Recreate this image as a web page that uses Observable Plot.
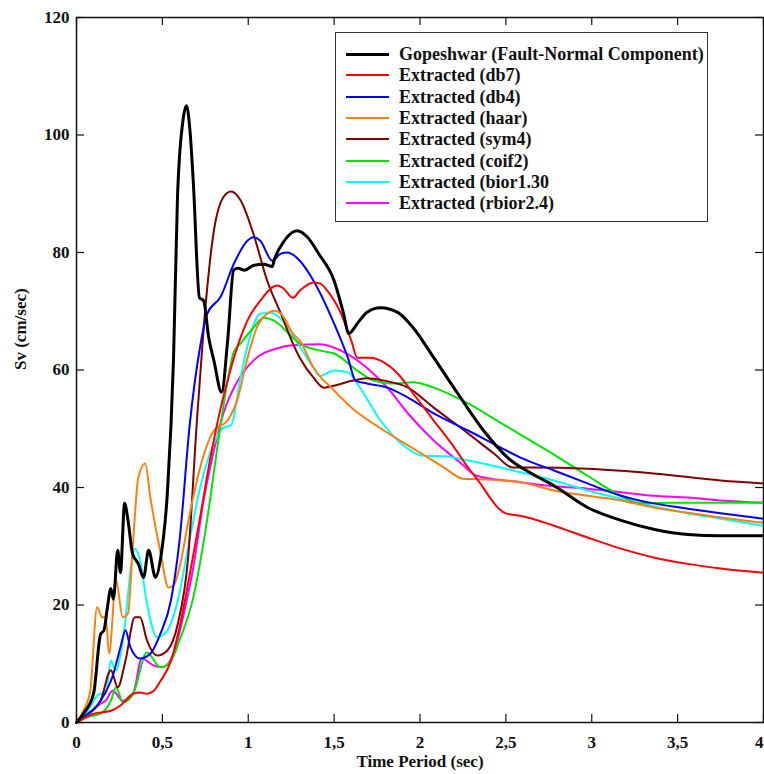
<!DOCTYPE html>
<html><head><meta charset="utf-8">
<script src="https://cdn.jsdelivr.net/npm/d3@7"></script>
<script src="https://cdn.jsdelivr.net/npm/@observablehq/plot@0.6"></script>
<style>
body{margin:0;background:#fff;}
#wrap{position:relative;width:764px;height:774px;font-family:"Liberation Serif","Times New Roman",serif;}
#legend{position:absolute;left:335px;top:32px;width:371px;height:188px;border:1.5px solid #333;background:#fff;box-sizing:content-box;}
.row{position:absolute;left:0;height:22px;width:100%;}
.sw{position:absolute;left:10px;top:10px;width:43px;}
.lab{position:absolute;left:63px;top:0;line-height:22px;font-weight:bold;font-size:18px;white-space:nowrap;color:#111;}
</style></head>
<body>
<div id="wrap"><div id="chart"></div><div id="legend"></div></div>
<script>
const xTicks = [0, 0.5, 1, 1.5, 2, 2.5, 3, 3.5, 4];
const yTicks = [0, 20, 40, 60, 80, 100, 120];
const xLabel = "Time Period (sec)";
const yLabel = "Sv (cm/sec)";

const seriesNames = ["Gopeshwar (Fault-Normal Component)", "Extracted (db7)", "Extracted (db4)", "Extracted (haar)", "Extracted (sym4)", "Extracted (coif2)", "Extracted (bior1.30", "Extracted (rbior2.4)"];
const seriesColors = ["#000000", "#ff0000", "#0000ff", "#ff7f0e", "#7f0000", "#00e600", "#00ffff", "#ff00ff"];

const gopeshwar = [[0,0],[0.04,1.5],[0.1,5],[0.14,15],[0.16,15.7],[0.18,19.6],[0.2,22.8],[0.215,21],[0.24,29.3],[0.256,25.5],[0.28,37.3],[0.3,34.4],[0.326,28.8],[0.36,27],[0.39,24.7],[0.42,29.3],[0.46,24.7],[0.49,28],[0.53,39.5],[0.565,62],[0.588,89.4],[0.62,102.5],[0.64,105],[0.66,101],[0.68,92],[0.716,72.3],[0.74,71.8],[0.77,65.5],[0.8,61.6],[0.845,56.2],[0.88,65],[0.915,77],[0.94,77.3],[0.98,77],[1.03,77.8],[1.09,78],[1.14,77.6],[1.15,78.6],[1.21,82],[1.285,83.7],[1.345,82.6],[1.41,79.8],[1.5,75.2],[1.555,69.6],[1.585,66.2],[1.635,67.9],[1.69,69.8],[1.77,70.6],[1.87,69.8],[1.96,67.2],[2.08,62.1],[2.22,56],[2.37,49.7],[2.51,45.1],[2.66,42.2],[2.78,40.3],[2.975,36.6],[3.17,34.4],[3.36,32.9],[3.56,32],[3.75,31.8],[4,31.8]];
const db7 = [[0,0],[0.1,1.5],[0.2,2],[0.256,2.9],[0.33,4.9],[0.37,5.1],[0.41,4.9],[0.45,5.4],[0.49,7.1],[0.55,10.5],[0.6,16.2],[0.66,25.3],[0.72,35],[0.78,45.1],[0.84,53.6],[0.9,60.4],[0.955,65.5],[0.995,68.4],[1.07,71.8],[1.17,74.4],[1.2,74],[1.26,72.3],[1.3,73.5],[1.38,74.9],[1.42,74.7],[1.46,73.5],[1.54,69.6],[1.6,65],[1.635,62.1],[1.71,62.1],[1.79,61.3],[1.87,59.4],[1.96,56],[2.08,51.4],[2.2,46.8],[2.28,43.4],[2.33,41.5],[2.5,35.6],[2.585,35.2],[2.78,33.5],[2.975,31.5],[3.17,29.6],[3.36,28.1],[3.56,27],[3.75,26.2],[4,25.5]];
const db4 = [[0,0],[0.04,0.9],[0.14,3.7],[0.215,8.3],[0.256,12.8],[0.285,15.7],[0.314,12.8],[0.37,10.9],[0.43,11.7],[0.49,15.2],[0.55,20.8],[0.6,31],[0.66,50.9],[0.72,64],[0.76,69.5],[0.84,72.5],[0.915,78],[0.995,82],[1.03,82.6],[1.07,82],[1.14,78.6],[1.19,79.8],[1.23,80],[1.3,78.6],[1.38,75.2],[1.5,67.9],[1.58,62.1],[1.625,58.2],[1.69,57.7],[1.81,57],[1.93,55.3],[2.08,52.6],[2.28,49.7],[2.47,46.8],[2.585,45.1],[2.78,42.9],[2.975,40.7],[3.17,38.6],[3.36,37.3],[3.56,36.4],[3.75,35.6],[4,34.7]];
const haar = [[0,0],[0.04,2],[0.08,5.4],[0.12,19.6],[0.15,17.9],[0.17,17.9],[0.19,11.7],[0.23,24.2],[0.27,17.9],[0.3,18.6],[0.33,31],[0.36,41.7],[0.4,44.1],[0.43,38.3],[0.49,28.8],[0.535,23],[0.565,23.3],[0.6,26.4],[0.66,35.6],[0.72,43.4],[0.8,49.7],[0.88,51.4],[0.94,55.3],[0.995,62],[1.05,67.2],[1.11,69.6],[1.15,70.1],[1.19,69.6],[1.26,66.2],[1.3,65],[1.38,60.4],[1.5,56.5],[1.6,53.6],[1.79,49.7],[1.98,46.3],[2.14,43.4],[2.25,41.5],[2.35,41.4],[2.585,40.9],[2.78,39.5],[2.975,38.6],[3.17,37.8],[3.36,36.6],[3.56,35.7],[3.75,34.9],[4,34]];
const sym4 = [[0,0],[0.04,0.9],[0.14,3.7],[0.2,8.9],[0.24,6],[0.285,10.5],[0.34,17.9],[0.37,17.9],[0.41,14],[0.47,11.4],[0.53,12.3],[0.59,16.8],[0.65,28.1],[0.7,50.9],[0.74,67],[0.8,83.7],[0.855,89.4],[0.9,90.4],[0.955,88.9],[1.03,83.2],[1.11,75.2],[1.19,69.6],[1.26,64.5],[1.3,62.1],[1.38,58.7],[1.44,57],[1.52,57.5],[1.61,58.2],[1.69,58.6],[1.79,58.2],[1.93,57],[2.08,53.6],[2.28,49.2],[2.43,45.8],[2.54,43.4],[2.66,43.4],[2.975,43.2],[3.36,42.4],[3.75,41.2],[4,40.7]];
const coif2 = [[0,0],[0.06,0.9],[0.14,1.5],[0.2,3.7],[0.23,6],[0.27,3.4],[0.33,4.9],[0.41,11.9],[0.49,9.4],[0.55,10.5],[0.6,14],[0.68,21.3],[0.76,34.4],[0.82,46.8],[0.88,58.2],[0.915,63],[0.955,64.5],[1.03,67.2],[1.09,68.9],[1.15,68.4],[1.26,65.5],[1.3,64.5],[1.42,63.3],[1.5,62.8],[1.635,59.9],[1.73,58.2],[1.83,57.7],[1.96,57.9],[2.08,57],[2.28,54.3],[2.47,51],[2.585,49],[2.78,45.6],[2.975,42],[3.17,38.6],[3.28,37.3],[3.46,37.4],[3.75,37.4],[4,37.4]];
const bior130 = [[0,0],[0.04,0.9],[0.14,4.9],[0.17,4.9],[0.2,10.5],[0.23,8.9],[0.27,14],[0.34,29.6],[0.37,27.6],[0.41,20.3],[0.47,14.5],[0.53,15.7],[0.59,20.8],[0.65,29.8],[0.72,40],[0.8,47.5],[0.855,50.2],[0.9,50.6],[0.955,58.7],[0.995,64],[1.07,69.6],[1.13,69.8],[1.2,68.4],[1.3,64],[1.38,60.4],[1.42,59],[1.5,59.9],[1.58,59.6],[1.65,57],[1.77,51.4],[1.89,47.5],[2.02,45.4],[2.14,45.3],[2.28,44.6],[2.47,43.4],[2.585,42.6],[2.78,41.2],[2.975,39.5],[3.17,38.1],[3.36,36.8],[3.56,35.6],[3.75,34.7],[4,33.5]];
const rbior24 = [[0,0],[0.06,1.2],[0.14,3.2],[0.17,3.7],[0.21,5.4],[0.27,3.7],[0.33,4.9],[0.38,10.9],[0.45,9.7],[0.5,9.4],[0.565,11.7],[0.62,17.9],[0.68,26.4],[0.74,37.8],[0.8,46.3],[0.855,52.6],[0.94,58.2],[1.03,61.6],[1.17,63.7],[1.26,64.2],[1.42,64.4],[1.54,63.3],[1.69,60.4],[1.81,57],[1.93,52.6],[2.08,48],[2.24,44.1],[2.33,42],[2.585,40.9],[2.78,40.2],[2.975,39.8],[3.17,39.2],[3.36,38.6],[3.56,38.3],[3.75,37.8],[4,37.4]];

const seriesData = [gopeshwar, db7, db4, haar, sym4, coif2, bior130, rbior24];
const seriesWidths = [3, 2, 2, 2, 2, 2, 2, 2];

const W = 764, H = 774, mL = 76, mR = 1, mT = 17, mB = 52;
const innerW = W - mL - mR, innerH = H - mT - mB;
const fmt = d => String(d).replace(".", ",");

const lineMarks = seriesData.map((s, i) => Plot.line(s, {x: d => d[0], y: d => d[1], stroke: seriesColors[i], strokeWidth: seriesWidths[i], curve: "monotone-x"})).reverse();

const chart = Plot.plot({
  width: W, height: H,
  marginLeft: mL, marginRight: mR, marginTop: mT, marginBottom: mB,
  style: {fontFamily: "'Liberation Serif', 'Times New Roman', serif", fontSize: "17px", fontWeight: "bold", color: "#111", background: "transparent"},
  x: {domain: [0, 4]},
  y: {domain: [0, 120]},
  marks: [
    ...lineMarks,
    Plot.frame({stroke: "#111", strokeWidth: 1.5}),
    Plot.tickX(xTicks, {x: d => d, insetTop: innerH - 8, stroke: "#111", strokeWidth: 1.2}),
    Plot.tickX(xTicks, {x: d => d, insetBottom: innerH - 8, stroke: "#111", strokeWidth: 1.2}),
    Plot.tickY(yTicks, {y: d => d, insetRight: innerW - 8, stroke: "#111", strokeWidth: 1.2}),
    Plot.tickY(yTicks, {y: d => d, insetLeft: innerW - 8, stroke: "#111", strokeWidth: 1.2}),
    Plot.axisX(xTicks.slice(0, -1), {tickSize: 0, tickPadding: 13, tickFormat: fmt, label: null, fontSize: 17}),
    Plot.axisX(xTicks.slice(-1), {tickSize: 0, tickPadding: 13, tickFormat: fmt, label: null, fontSize: 17, textAnchor: "end"}),
    Plot.axisY(yTicks, {tickSize: 0, tickPadding: 7, label: null, fontSize: 17}),
    Plot.text([xLabel], {frameAnchor: "bottom", dy: 44, text: d => d, fontSize: 17}),
    Plot.text([yLabel], {frameAnchor: "left", dx: -56, rotate: -90, text: d => d, fontSize: 17})
  ]
});
document.getElementById("chart").appendChild(chart);

const leg = document.getElementById("legend");
seriesNames.forEach((n, i) => {
  const row = document.createElement("div");
  row.className = "row";
  row.style.top = (10 + i * 21.3) + "px";
  const sw = document.createElement("div");
  sw.className = "sw";
  sw.style.borderTop = seriesWidths[i] + "px solid " + seriesColors[i];
  const lab = document.createElement("div");
  lab.className = "lab";
  lab.textContent = n;
  row.appendChild(sw); row.appendChild(lab);
  leg.appendChild(row);
});
</script>
</body></html>
